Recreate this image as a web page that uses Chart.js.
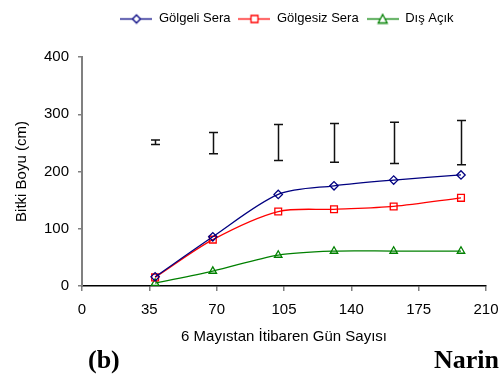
<!DOCTYPE html>
<html>
<head>
<meta charset="utf-8">
<script src="https://cdn.jsdelivr.net/npm/chart.js@4.4.1/dist/chart.umd.min.js"></script>
<style>
  html, body { margin: 0; padding: 0; background: #fff; }
  #wrap { position: relative; width: 501px; height: 374px; overflow: hidden; }
  .tag { position: absolute; font-family: 'Liberation Serif', 'Times New Roman', serif; font-weight: bold; font-size: 26px; line-height: 26px; color: #000; white-space: nowrap; }
</style>
</head>
<body>
<div id="wrap">
  <canvas id="c" width="501" height="374"></canvas>
  <div class="tag" style="left:88px; top:347px;">(b)</div>
  <div class="tag" style="left:434px; top:347px;">Narin</div>
</div>
<script>
// Days counted from 6 May
const days = [38, 68, 102, 131, 162, 197];
// Plant height (cm)
const golgeliSera = [16, 86, 160, 175, 185, 194];
const golgesizSera = [15, 81, 130, 134, 139, 154];
const disAcik = [5, 26, 54, 61, 61, 61];
// Vertical range bars drawn above the curves
const barLow = [247, 231, 219, 216, 214, 212];
const barHigh = [255, 268, 282, 284, 286, 289];

const seriesNames = ['Gölgeli Sera', 'Gölgesiz Sera', 'Dış Açık'];
const xTicks = [0, 35, 70, 105, 140, 175, 210];
const yTicks = [0, 100, 200, 300, 400];

const FONT = "'Liberation Sans', Arial, sans-serif";
const colors = ['#000080', '#FF0000', '#008000'];
const styles = ['rectRot', 'rect', 'triangle'];
const radii = [4.2, 4.8, 4.3];

function toXY(values) {
  return days.map((d, i) => ({ x: d, y: values[i] }));
}

// Small line + marker swatch used in the legend
function swatch(color, style) {
  const cv = document.createElement('canvas');
  cv.width = 32; cv.height = 12;
  const g = cv.getContext('2d');
  g.strokeStyle = color;
  g.lineWidth = 1.3;
  g.beginPath(); g.moveTo(0, 6.5); g.lineTo(32, 6.5); g.stroke();
  g.fillStyle = '#fff';
  g.beginPath();
  if (style === 'rectRot') {
    g.moveTo(16, 2.5); g.lineTo(20, 6.5); g.lineTo(16, 10.5); g.lineTo(12, 6.5); g.closePath();
  } else if (style === 'rect') {
    g.rect(12.5, 3, 7, 7);
  } else {
    g.moveTo(16, 2); g.lineTo(20.5, 10.5); g.lineTo(11.5, 10.5); g.closePath();
  }
  g.fill(); g.stroke();
  return cv;
}
const swatches = colors.map((c, i) => swatch(c, styles[i]));

// Vertical range bars with caps at each sampling day
const rangeBars = {
  id: 'rangeBars',
  afterDatasetsDraw(chart) {
    const { ctx, scales: { x, y } } = chart;
    ctx.save();
    ctx.strokeStyle = '#111';
    ctx.lineWidth = 1.5;
    days.forEach((d, i) => {
      const px = Math.round(x.getPixelForValue(d)) + 0.5;
      const y1 = y.getPixelForValue(barLow[i]);
      const y2 = y.getPixelForValue(barHigh[i]);
      ctx.beginPath();
      ctx.moveTo(px, y1); ctx.lineTo(px, y2);
      ctx.moveTo(px - 4.5, y1); ctx.lineTo(px + 4.5, y1);
      ctx.moveTo(px - 4.5, y2); ctx.lineTo(px + 4.5, y2);
      ctx.stroke();
    });
    ctx.restore();
  }
};

// Keep the legend row near the top edge while leaving room above the plot
const legendPlacement = {
  id: 'legendPlacement',
  afterLayout(chart) {
    const lg = chart.legend;
    if (!lg) return;
    lg.top -= 22; lg.bottom -= 22;
    lg.left += 3; lg.right += 3;
  }
};

const seriesValues = [golgeliSera, golgesizSera, disAcik];

new Chart(document.getElementById('c'), {
  type: 'line',
  data: {
    datasets: seriesValues.map((vals, i) => ({
      label: seriesNames[i],
      data: toXY(vals),
      borderColor: colors[i],
      backgroundColor: '#fff',
      borderWidth: 1.3,
      pointStyle: styles[i],
      pointRadius: radii[i],
      pointBorderWidth: 1.3,
      pointBackgroundColor: 'rgba(255,255,255,0)',
      pointBorderColor: colors[i],
      tension: 0.3,
      fill: false
    }))
  },
  options: {
    responsive: false,
    animation: false,
    layout: { padding: { left: 0, right: 15, top: 26, bottom: 28 } },
    plugins: {
      tooltip: { enabled: false },
      legend: {
        display: true,
        position: 'top',
        fullSize: false,
        align: 'center',
        labels: {
          usePointStyle: true,
          pointStyleWidth: 32,
          padding: 8,
          color: '#000',
          font: { family: FONT, size: 13 },
          generateLabels(chart) {
            return chart.data.datasets.map((ds, i) => ({
              text: ds.label,
              pointStyle: swatches[i],
              fillStyle: '#fff',
              strokeStyle: colors[i],
              lineWidth: 0,
              fontColor: '#000',
              hidden: false,
              datasetIndex: i
            }));
          }
        }
      }
    },
    scales: {
      x: {
        type: 'linear',
        min: 0, max: 210,
        afterBuildTicks(scale) { scale.ticks = xTicks.map(v => ({ value: v })); },
        afterFit(scale) { scale.height = 60; scale.paddingLeft = 0; scale.paddingRight = 0; },
        border: { display: true, color: '#000', width: 1.5 },
        grid: { drawOnChartArea: false, drawTicks: true, tickLength: 5, color: '#808080', lineWidth: 1.5 },
        ticks: { color: '#000', padding: 10, maxRotation: 0, font: { family: FONT, size: 15 } },
        title: { display: true, text: '6 Mayıstan İtibaren Gün Sayısı', color: '#000', font: { family: FONT, size: 15 }, padding: { top: 0, bottom: 0 } }
      },
      y: {
        type: 'linear',
        min: 0, max: 400,
        afterBuildTicks(scale) { scale.ticks = yTicks.map(v => ({ value: v })); },
        afterFit(scale) { scale.width = 82; scale.paddingTop = 0; scale.paddingBottom = 0; },
        border: { display: true, color: '#808080', width: 2 },
        grid: { drawOnChartArea: false, drawTicks: true, tickLength: 4, color: '#808080', lineWidth: 1.5 },
        ticks: { color: '#000', padding: 9, font: { family: FONT, size: 15 } },
        title: { display: true, text: 'Bitki Boyu (cm)', color: '#000', font: { family: FONT, size: 15 }, padding: { top: 12.5, bottom: 0 } }
      }
    }
  },
  plugins: [rangeBars, legendPlacement]
});
</script>
</body>
</html>
